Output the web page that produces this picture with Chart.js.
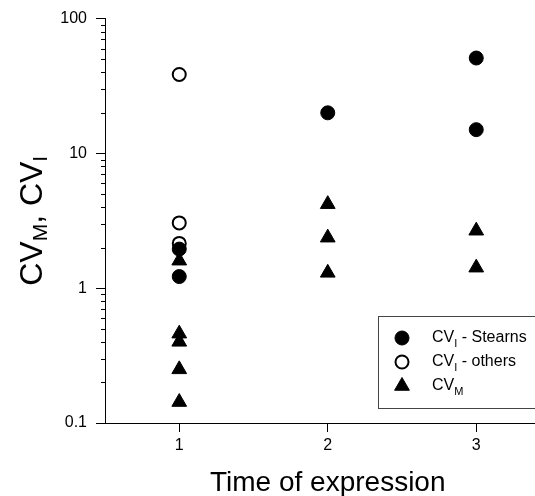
<!DOCTYPE html>
<html>
<head>
<meta charset="utf-8">
<script src="https://cdn.jsdelivr.net/npm/chart.js@4/dist/chart.umd.min.js"></script>
<style>
  html, body { margin: 0; padding: 0; background: #fff; overflow: hidden; }
  #wrap { position: relative; width: 560px; height: 496px; }
</style>
</head>
<body>
<div id="wrap"><canvas id="chart"></canvas></div>
<script>
// data
const timeStearns = [1, 1, 2, 3, 3];
const cvStearns = [1.95, 1.22, 20, 51, 15];
const timeOthers = [1, 1, 1];
const cvOthers = [38.5, 3.05, 2.15];
const timeM = [1, 1, 1, 1, 1, 2, 2, 2, 3, 3];
const cvM = [1.6, 0.46, 0.40, 0.25, 0.143, 4.2, 2.37, 1.30, 2.67, 1.42];
const xTicks = [1, 2, 3];
const yTicks = [0.1, 1, 10, 100];
const yMinor = [2, 3, 4, 5, 6, 7, 8, 9];

const FONT = "'Liberation Sans', Arial, sans-serif";

// rich text bits: [text, isSubscript]
const yTitle = [['CV', false], ['M', true], [', CV', false], ['I', true]];
const xTitle = 'Time of expression';
const legendItems = [
    { style: 'circle', fill: true, parts: [['CV', false], ['I', true], [' - Stearns', false]] },
    { style: 'circle', fill: false, parts: [['CV', false], ['I', true], [' - others', false]] },
    { style: 'triangle', fill: true, parts: [['CV', false], ['M', true]] }
];

const toPoints = (xs, ys) => xs.map((x, i) => ({ x: x, y: ys[i] }));

function richWidth(ctx, parts, size, subSize) {
    let w = 0;
    parts.forEach(p => {
        ctx.font = (p[1] ? subSize : size) + 'px ' + FONT;
        w += ctx.measureText(p[0]).width;
    });
    return w;
}

function drawRich(ctx, parts, x, y, size, subSize, subDrop) {
    let cx = x;
    ctx.textBaseline = 'middle';
    ctx.textAlign = 'left';
    parts.forEach(p => {
        ctx.font = (p[1] ? subSize : size) + 'px ' + FONT;
        ctx.fillText(p[0], cx, p[1] ? y + subDrop : y);
        cx += ctx.measureText(p[0]).width;
    });
}

const extras = {
    id: 'extras',
    afterDraw(chart) {
        const ctx = chart.ctx;
        const xs = chart.scales.x, ys = chart.scales.y;
        const area = chart.chartArea;
        ctx.save();
        ctx.strokeStyle = '#000';
        ctx.fillStyle = '#000';
        ctx.lineWidth = 1;

        // minor ticks on the log axis
        ctx.beginPath();
        [0.1, 1, 10].forEach(d => {
            yMinor.forEach(m => {
                const py = Math.round(ys.getPixelForValue(d * m)) + 0.5;
                ctx.moveTo(area.left - 4, py);
                ctx.lineTo(area.left, py);
            });
        });
        ctx.stroke();

        // y title
        ctx.save();
        ctx.translate(33, (area.top + area.bottom) / 2);
        ctx.rotate(-Math.PI / 2);
        const tw = richWidth(ctx, yTitle, 32, 21);
        drawRich(ctx, yTitle, -tw / 2, 0, 32, 21, 8);
        ctx.restore();

        // x title
        ctx.font = '28px ' + FONT;
        ctx.textAlign = 'center';
        ctx.textBaseline = 'middle';
        ctx.fillText(xTitle, xs.getPixelForValue(2), 483);

        // legend (box runs off the right edge like the original)
        const lx = 378, ly = 316, lw = 170, lh = 92;
        ctx.strokeStyle = '#444';
        ctx.strokeRect(lx + 0.5, ly + 0.5, lw, lh);
        legendItems.forEach((it, i) => {
            const cy = 338 + i * 24;
            const opts = {
                pointStyle: it.style,
                radius: it.style === 'triangle' ? 8.5 : (it.fill ? 7 : 6.5),
                borderWidth: it.fill ? 1 : 2
            };
            ctx.fillStyle = it.fill ? '#000' : 'rgba(0,0,0,0)';
            ctx.strokeStyle = '#000';
            ctx.lineWidth = opts.borderWidth;
            Chart.helpers.drawPoint(ctx, opts, 402, cy);
            ctx.fillStyle = '#000';
            drawRich(ctx, it.parts, 432, cy, 16, 11, 6);
        });
        ctx.restore();
    }
};

new Chart(document.getElementById('chart'), {
    type: 'scatter',
    data: {
        datasets: [
            {
                label: 'CVI - Stearns',
                data: toPoints(timeStearns, cvStearns),
                pointStyle: 'circle',
                pointRadius: 7,
                backgroundColor: '#000',
                borderColor: '#000',
                borderWidth: 1
            },
            {
                label: 'CVI - others',
                data: toPoints(timeOthers, cvOthers),
                pointStyle: 'circle',
                pointRadius: 6.5,
                backgroundColor: 'rgba(0,0,0,0)',
                borderColor: '#000',
                borderWidth: 2
            },
            {
                label: 'CVM',
                data: toPoints(timeM, cvM),
                pointStyle: 'triangle',
                pointRadius: 8.5,
                backgroundColor: '#000',
                borderColor: '#000',
                borderWidth: 1
            }
        ]
    },
    options: {
        responsive: true,
        maintainAspectRatio: false,
        animation: false,
        layout: { padding: { left: 0, top: 17, right: 8, bottom: 0 } },
        plugins: {
            legend: { display: false },
            tooltip: { enabled: false }
        },
        scales: {
            x: {
                type: 'linear',
                min: 0.5,
                max: 3.5,
                afterBuildTicks: s => { s.ticks = xTicks.map(v => ({ value: v })); },
                grid: { drawOnChartArea: false, drawTicks: true, tickLength: 9, tickColor: '#000', tickWidth: 1 },
                border: { display: true, color: '#000', width: 1 },
                ticks: { color: '#000', font: { family: FONT, size: 16 }, padding: 4, maxRotation: 0, callback: v => String(v) },
                afterFit: s => { s.height = 73; }
            },
            y: {
                type: 'logarithmic',
                min: 0.1,
                max: 100,
                afterBuildTicks: s => { s.ticks = yTicks.map(v => ({ value: v })); },
                grid: { drawOnChartArea: false, drawTicks: true, tickLength: 9, tickColor: '#000', tickWidth: 1 },
                border: { display: true, color: '#000', width: 1 },
                ticks: { color: '#000', font: { family: FONT, size: 16 }, padding: 9, callback: v => String(v) },
                afterFit: s => { s.width = 105; }
            }
        }
    },
    plugins: [extras]
});
</script>
</body>
</html>
